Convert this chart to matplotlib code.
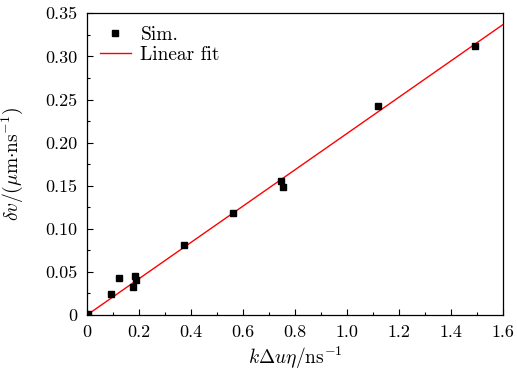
import matplotlib
matplotlib.use('Agg')
import matplotlib.pyplot as plt
from matplotlib.ticker import MultipleLocator, FixedLocator, FixedFormatter

# datos
sim_x = [0.005, 0.092, 0.123, 0.177, 0.186, 0.187, 0.372, 0.562, 0.746, 0.752, 1.119, 1.492]
sim_y = [0.001, 0.0243, 0.0430, 0.0330, 0.0450, 0.0405, 0.0815, 0.1180, 0.1557, 0.1490, 0.2420, 0.3120]
fit_x = [0.0, 1.6]
fit_y = [0.0, 0.337]

x_ticks = [0, 0.2, 0.4, 0.6, 0.8, 1.0, 1.2, 1.4, 1.6]
x_labels = ['0', '0.2', '0.4', '0.6', '0.8', '1.0', '1.2', '1.4', '1.6']
y_ticks = [0, 0.05, 0.10, 0.15, 0.20, 0.25, 0.30, 0.35]
y_labels = ['0', '0.05', '0.10', '0.15', '0.20', '0.25', '0.30', '0.35']

plt.rcParams['font.family'] = 'serif'
plt.rcParams['font.serif'] = ['cmr10']
plt.rcParams['mathtext.fontset'] = 'cm'
plt.rcParams['axes.unicode_minus'] = False

fig = plt.figure(figsize=(5.17, 3.72), dpi=100)
ax = fig.add_axes([0.1683, 0.1532, 0.8047, 0.8110])

ax.plot(sim_x, sim_y, 's', color='black', markersize=5, label='Sim.', zorder=3)
ax.plot(fit_x, fit_y, '-', color='red', lw=1.0, label='Linear fit', zorder=2)

ax.set_xlim(0, 1.6)
ax.set_ylim(0, 0.35)

ax.xaxis.set_major_locator(FixedLocator(x_ticks))
ax.xaxis.set_major_formatter(FixedFormatter(x_labels))
ax.yaxis.set_major_locator(FixedLocator(y_ticks))
ax.yaxis.set_major_formatter(FixedFormatter(y_labels))
ax.xaxis.set_minor_locator(MultipleLocator(0.1))
ax.yaxis.set_minor_locator(MultipleLocator(0.025))

ax.tick_params(which='both', direction='in', top=False, right=False, labelsize=13)
ax.tick_params(which='major', length=4, width=0.8)
ax.tick_params(which='minor', length=2.5, width=0.8)
ax.tick_params(axis='x', pad=7)
ax.tick_params(axis='y', pad=7)
for s in ax.spines.values():
    s.set_linewidth(0.9)

ax.set_xlabel(r'$k\Delta u\eta/\mathrm{ns}^{-1}$', fontsize=14)
ax.set_ylabel(r'$\delta v/(\mathrm{\mu m{\cdot}ns}^{-1})$', fontsize=14)
ax.xaxis.set_label_coords(0.5, -0.10)
ax.yaxis.set_label_coords(-0.150, 0.5)

ax.legend(loc='upper left', frameon=False, fontsize=14, handlelength=1.6,
          handletextpad=0.5, labelspacing=0.1, borderaxespad=0.25, markerscale=0.8)

fig.savefig('out.png', dpi=100)
